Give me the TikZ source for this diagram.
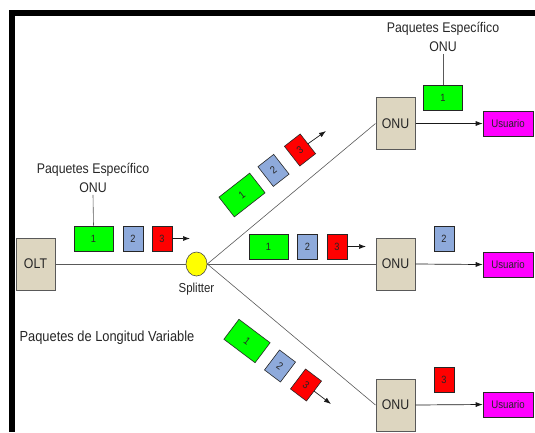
\documentclass[tikz,border=0pt]{standalone}
\usepackage{fontspec}
\setmainfont{Liberation Sans}
\newfontfamily\narrowsans[FakeStretch=0.88]{Liberation Sans}
\usetikzlibrary{arrows.meta,shapes.geometric}
\definecolor{eqtan}{RGB}{221,214,192}
\definecolor{pblue}{RGB}{142,170,219}
\definecolor{pgreen}{RGB}{0,255,0}
\definecolor{pred}{RGB}{255,0,0}
\definecolor{umag}{RGB}{255,0,255}
\definecolor{spy}{RGB}{255,255,0}
\begin{document}
\begin{tikzpicture}[x=1pt,y=-1pt,
  eq/.style={draw=black!65, line width=1pt, fill=eqtan, minimum width=39pt, minimum height=52pt, inner sep=0pt, font=\narrowsans\fontsize{14}{16}\selectfont, text=black!85},
  pkt/.style={draw=black!85, line width=0.6pt, minimum height=25pt, inner sep=0pt, font=\narrowsans\fontsize{10.5}{12}\selectfont, text=black!85},
  pkone/.style={pkt, fill=pgreen, minimum width=39pt},
  pktwo/.style={pkt, fill=pblue, minimum width=20pt},
  pkthree/.style={pkt, fill=pred, minimum width=20pt},
  usr/.style={draw=black!85, line width=0.6pt, fill=umag, minimum width=50pt, minimum height=25pt, inner sep=0pt, font=\narrowsans\fontsize{11}{12}\selectfont, text=black!85},
  fiber/.style={draw=black!65, line width=0.6pt},
  arr/.style={draw=black!90, line width=0.7pt, -{Latex[length=7pt,width=5pt]}},
  lbl/.style={font=\narrowsans\fontsize{14}{19}\selectfont, align=center, inner sep=2pt, text=black!85},
]
\useasboundingbox (0,0) rectangle (535,432);
% frame
\fill[black] (9,10) rectangle (535,16);
\fill[black] (9,10) rectangle (15,432);

% equipment
\node[eq] (olt) at (35.5,264) {OLT};
\node[draw=black!70, line width=0.6pt, fill=spy, ellipse, minimum width=21pt, minimum height=24pt, inner sep=0pt] (sp) at (196.5,264) {};
\node[font=\narrowsans\fontsize{13}{15}\selectfont, text=black!85, inner sep=0pt] (splbl) at (196.5,289) {Splitter};
\node[eq] (o1) at (395.5,123.5) {ONU};
\node[eq] (o2) at (395.5,264) {ONU};
\node[eq] (o3) at (395.5,405) {ONU};
\node[usr] (u1) at (508,123.5) {Usuario};
\node[usr] (u2) at (508,264.5) {Usuario};
\node[usr] (u3) at (508,404.5) {Usuario};

% fibers
\draw[fiber] (olt.east) -- (sp.west);
\draw[fiber] (sp.east) -- (o1.west);
\draw[fiber] (sp.east) -- (o2.west);
\draw[fiber] (sp.east) -- (o3.west);
\draw[arr] (o1.east) -- (u1.west);
\draw[arr] (o2.east) -- (u2.west);
\draw[arr] (o3.east) -- (u3.west);

% OLT packets
\node[pkone] (a1) at (93.5,238.5) {1};
\node[pktwo] (a2) at (133,238.5) {2};
\node[pkthree] (a3) at (162,238.5) {3};
\coordinate (ae) at (190,238.5);
\draw[arr] (a3.east) -- (ae);
\node[lbl] (la) at (93,178) {Paquetes Específico\\ONU};
\draw[fiber] (la.south) -- (a1.north);
\node[lbl, inner sep=0pt, font=\narrowsans\fontsize{14.6}{17}\selectfont] (lv) at (107,338) {Paquetes de Longitud Variable};

% upper diagonal packets
\node[pkone, rotate=38] (b1) at (242,195) {1};
\node[pktwo, rotate=38] (b2) at (273.5,170.4) {2};
\node[pkthree, rotate=38] (b3) at (300,150) {3};
\coordinate (be) at (326,131);
\draw[arr] (b3.east) -- (be);

% middle packets
\node[pkone] (c1) at (268.5,246.5) {1};
\node[pktwo] (c2) at (307.5,246.5) {2};
\node[pkthree] (c3) at (337,246.5) {3};
\coordinate (ce) at (366,246.5);
\draw[arr] (c3.east) -- (ce);

% lower diagonal packets
\node[pkone, rotate=-37] (d1) at (247,341) {1};
\node[pktwo, rotate=-37] (d2) at (280,366) {2};
\node[pkthree, rotate=-37] (d3) at (306,385) {3};
\coordinate (de) at (331,404);
\draw[arr] (d3.east) -- (de);

% packets at ONUs
\node[pkone] (e1) at (443,97.5) {1};
\node[lbl] (le) at (443,37) {Paquetes Específico\\ONU};
\draw[fiber] (le.south) -- (e1.north);
\node[pktwo] (e2) at (444,239) {2};
\node[pkthree] (e3) at (444,380) {3};
\end{tikzpicture}
\end{document}
